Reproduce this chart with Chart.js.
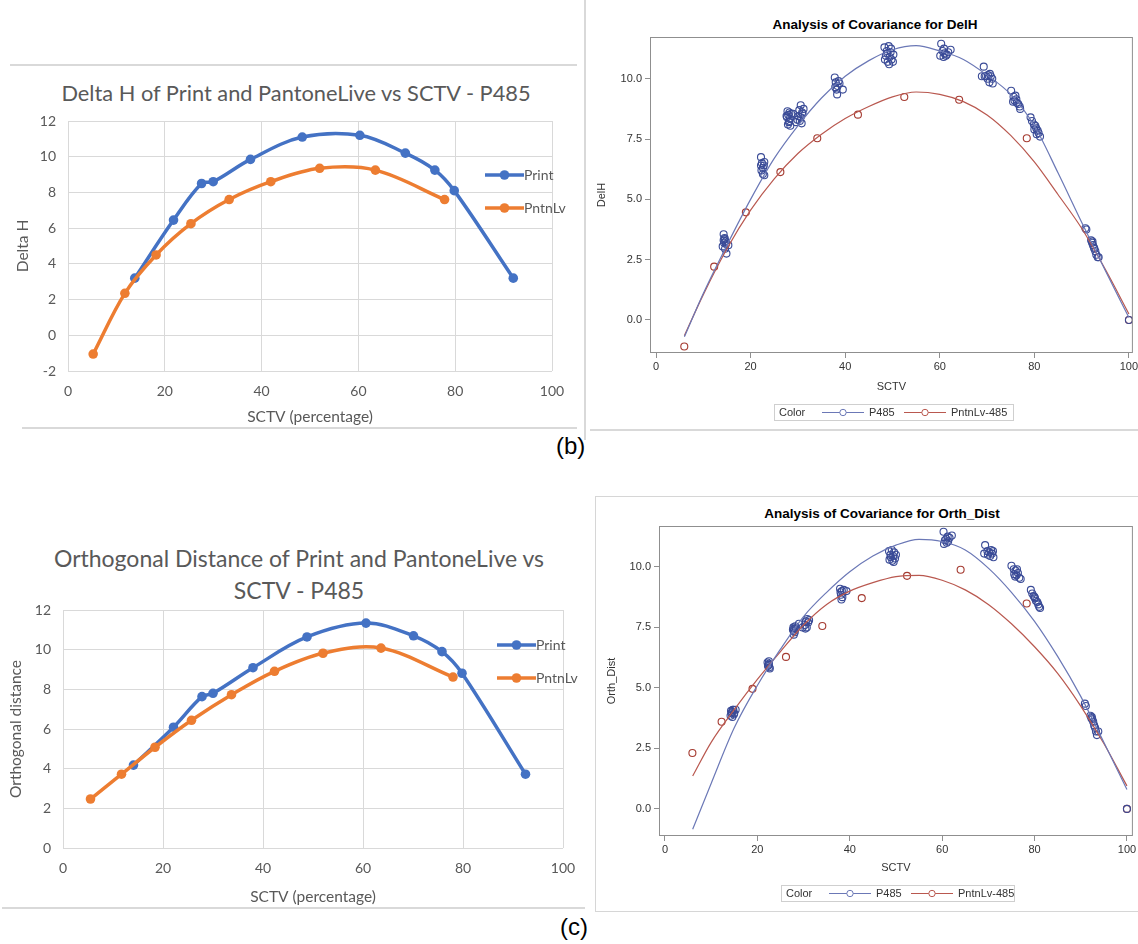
<!DOCTYPE html>
<html>
<head>
<meta charset="utf-8">
<script src="https://cdn.jsdelivr.net/npm/chart.js@4.4.0/dist/chart.umd.min.js"></script>
<style>
body { margin: 0; background: #fff; width: 1138px; height: 944px; position: relative; overflow: hidden; font-family: "Liberation Sans", Arial, sans-serif; }
canvas { position: absolute; }
.rule { position: absolute; background: #d9d9d9; }
.xl-title { position: absolute; font-family: Lato, sans-serif; font-size: 21.8px; color: #595959; white-space: nowrap; transform: translate(-50%, -50%); }
.xl-leg { position: absolute; font-family: Lato, sans-serif; font-size: 14px; color: #595959; }
.xl-leg div { position: absolute; left: 0; display: flex; align-items: center; white-space: nowrap; }
.sas-title { position: absolute; font-size: 13.5px; font-weight: bold; color: #000; white-space: nowrap; transform: translate(-50%, -50%); }
.sas-leg { position: absolute; height: 15px; border: 1px solid #cfcfcf; font-size: 11px; color: #333; }
.sas-leg > * { position: absolute; top: 0; line-height: 15px; white-space: nowrap; }
.panel-tag { position: absolute; font-size: 24px; color: #000; }
.frame { position: absolute; border: 1px solid #d6d6d6; }
</style>
</head>
<body>

<div class="rule" style="left:10px;top:64px;width:567px;height:2px"></div>
<div class="rule" style="left:22px;top:427px;width:555px;height:2px"></div>
<div class="rule" style="left:584px;top:0px;width:2px;height:440px"></div>
<div class="rule" style="left:590px;top:429px;width:548px;height:2px"></div>
<div class="rule" style="left:2px;top:907px;width:583px;height:2px"></div>
<div class="frame" style="left:595px;top:496px;width:545px;height:414px"></div>

<div class="xl-title" style="left:296px;top:92px">Delta H of Print and PantoneLive vs SCTV - P485</div>
<div class="xl-title" style="left:299px;top:558px;font-size:23px">Orthogonal Distance of Print and PantoneLive vs</div>
<div class="xl-title" style="left:299px;top:590px;font-size:23px">SCTV - P485</div>
<div class="sas-title" style="left:875px;top:24px">Analysis of Covariance for DelH</div>
<div class="sas-title" style="left:882px;top:513px">Analysis of Covariance for Orth_Dist</div>

<div class="panel-tag" style="left:556px;top:432px">(b)</div>
<div class="panel-tag" style="left:560px;top:913px">(c)</div>

<canvas id="dhExcel" width="575" height="366" style="left:10px;top:66px"></canvas>
<canvas id="odExcel" width="585" height="382" style="left:0px;top:530px"></canvas>
<canvas id="dhSas" width="548" height="440" style="left:590px;top:0px"></canvas>
<canvas id="odSas" width="543" height="415" style="left:595px;top:496px"></canvas>

<div class="xl-leg" id="legA" style="left:485px;top:174px"></div>
<div class="xl-leg" id="legC" style="left:497px;top:644px"></div>
<div class="sas-leg" id="legB" style="left:774px;top:404px;width:238px"></div>
<div class="sas-leg" id="legD" style="left:781px;top:885px;width:232px"></div>

<script>
// ---- Excel chart: Delta H ----
const dhPrintX = [13.8, 21.8, 27.6, 30.0, 37.7, 48.4, 60.3, 69.7, 75.8, 79.8, 92.0];
const dhPrintY = [3.2, 6.45, 8.5, 8.6, 9.85, 11.1, 11.2, 10.2, 9.25, 8.1, 3.2];
const dhLiveX = [5.2, 11.75, 18.2, 25.4, 33.3, 41.9, 52.0, 63.5, 77.8];
const dhLiveY = [-1.05, 2.35, 4.5, 6.25, 7.6, 8.6, 9.35, 9.25, 7.6];

// ---- Excel chart: Orthogonal distance ----
const odPrintX = [14.1, 22.1, 27.8, 30.0, 38.0, 48.8, 60.6, 70.1, 75.8, 79.8, 92.5];
const odPrintY = [4.18, 6.09, 7.63, 7.8, 9.09, 10.64, 11.34, 10.7, 9.9, 8.81, 3.72];
const odLiveX = [5.5, 11.7, 18.4, 25.7, 33.7, 42.3, 52.0, 63.6, 78.0];
const odLiveY = [2.47, 3.72, 5.08, 6.44, 7.73, 8.91, 9.82, 10.08, 8.62];

const xlXTicks = [0, 20, 40, 60, 80, 100];
const dhYTicks = [-2, 0, 2, 4, 6, 8, 10, 12];
const odYTicks = [0, 2, 4, 6, 8, 10, 12];

// ---- SAS ANCOVA: DelH ----
const delhP485 = [
  [14.3,3.55],[14.5,3.4],[14.3,3.3],[14.7,3.25],[14.1,3.05],[14.8,3.15],[15.3,3.1],[14.6,2.95],[14.9,2.75],[14.5,3.35],[14.4,3.2],
  [22.2,6.75],[22.4,6.5],[22.8,6.4],[22.3,6.2],[22.6,6.05],[22.9,6.0],[22.6,6.3],[22.2,6.4],[22.9,6.55],
  [27.8,8.65],[28.0,8.5],[27.7,8.4],[28.3,8.35],[28.1,8.2],[27.9,8.1],[28.4,8.05],[28.6,8.55],[27.6,8.45],[28.2,8.6],[29.0,8.55],[28.2,8.25],
  [30.6,8.9],[30.3,8.7],[30.9,8.6],[30.1,8.45],[30.6,8.4],[31.0,8.55],[29.9,8.3],[30.8,8.15],[30.4,8.25],[31.2,8.75],[29.6,8.2],
  [37.8,10.05],[38.0,9.85],[38.4,9.7],[38.2,9.55],[38.8,9.8],[38.3,9.35],[39.5,9.55],[37.9,9.65],[38.6,9.9],
  [48.3,11.3],[49.2,11.35],[48.8,11.15],[49.6,11.1],[48.6,10.95],[49.4,10.9],[50.2,11.0],[48.4,10.8],[49.0,10.7],[49.8,10.8],[49.3,10.6],[50.1,10.7],[48.9,11.05],[49.7,11.25],
  [60.3,11.45],[60.6,11.15],[61.0,11.05],[60.1,10.95],[61.3,10.95],[60.8,10.9],[61.8,11.1],[62.3,11.2],[61.5,11.0],[60.9,11.25],
  [69.3,10.5],[68.9,10.1],[69.5,10.1],[70.2,10.15],[70.6,10.2],[70.1,10.0],[70.5,9.85],[71.1,10.0],[71.2,9.8],[69.8,10.1],[70.8,10.1],
  [75.1,9.5],[75.6,9.25],[76.0,9.3],[75.8,9.1],[76.3,9.0],[76.6,8.95],[76.9,8.85],[77.0,8.75],[76.2,9.15],[75.5,9.05],
  [79.2,8.4],[79.5,8.25],[79.9,8.1],[80.2,8.05],[80.4,7.95],[80.7,7.85],[80.9,7.75],[81.2,7.6],[80.0,7.9],[80.5,7.7],
  [90.8,3.8],[91.0,3.75],[92.0,3.3],[92.2,3.2],[92.4,3.1],[92.6,3.0],[92.9,2.85],[93.1,2.7],[93.4,2.6],[93.6,2.6],[92.3,3.25],[92.7,2.95],
  [100,0]
];
const delhLive = [[5.98,-1.1],[12.3,2.21],[19.0,4.46],[26.3,6.13],[34.1,7.53],[42.7,8.51],[52.5,9.24],[64.1,9.13],[78.4,7.53],[100,0]];

// ---- SAS ANCOVA: Orth_Dist ----
const orthP485 = [
  [14.2,3.85],[14.5,4.0],[14.8,4.1],[14.4,3.95],[14.9,3.9],[14.6,3.8],[15.3,4.1],[14.3,4.05],[14.7,4.1],[15.0,3.95],
  [22.2,6.05],[22.4,5.95],[22.6,5.85],[22.5,6.0],[22.3,5.9],[22.7,5.8],[22.5,6.1],
  [27.8,7.5],[28.0,7.45],[27.9,7.35],[28.1,7.3],[27.7,7.4],[28.2,7.55],[27.9,7.2],[28.3,7.45],
  [29.0,7.65],[29.8,7.5],[30.3,7.6],[30.5,7.75],[30.8,7.85],[31.0,7.7],[30.7,7.5],[31.2,7.8],[30.4,7.45],
  [37.9,9.1],[38.3,9.0],[38.1,8.85],[38.4,8.75],[38.2,8.65],[38.7,9.05],[39.3,9.0],[38.0,8.95],
  [48.5,10.65],[49.1,10.7],[49.6,10.6],[48.8,10.5],[49.4,10.45],[50.0,10.5],[48.6,10.3],[49.2,10.25],[49.8,10.35],[48.9,10.4],[49.5,10.2],
  [60.3,11.45],[61.6,11.2],[62.1,11.3],[60.6,11.1],[61.0,11.0],[60.9,11.15],[61.3,11.05],[60.4,10.95],[61.2,11.25],
  [69.3,10.9],[69.1,10.55],[69.8,10.65],[70.2,10.6],[70.6,10.7],[70.4,10.45],[71.1,10.4],[69.9,10.5],[70.8,10.55],[71.0,10.65],
  [75.0,10.05],[75.5,9.9],[75.9,9.85],[75.6,9.7],[76.1,9.65],[76.4,9.75],[76.7,9.55],[77.0,9.5],[76.2,9.9],[75.8,9.6],
  [79.2,9.05],[79.5,8.9],[79.8,8.8],[80.1,8.7],[80.3,8.6],[80.6,8.55],[80.8,8.45],[81.0,8.35],[81.2,8.3],[80.0,8.75],
  [90.9,4.35],[91.1,4.25],[92.1,3.85],[92.3,3.75],[92.5,3.7],[92.7,3.6],[92.9,3.45],[93.1,3.35],[93.3,3.2],[93.5,3.05],[93.8,3.2],[92.4,3.8],
  [100,0]
];
const orthLive = [[5.94,2.31],[12.26,3.6],[18.95,4.96],[26.2,6.28],[34.06,7.56],[42.6,8.71],[52.4,9.63],[64.0,9.88],[78.3,8.49],[100,0]];

// fitted curves
const fitX = [6, 10, 15, 20, 25, 30, 35, 40, 45, 50, 55, 60, 65, 70, 75, 80, 85, 90, 95, 100];
const delhFitP485 = [-0.7, 1.1, 3.1, 5.0, 6.7, 8.05, 9.2, 10.1, 10.75, 11.2, 11.37, 11.15, 10.8, 10.15, 9.35, 8.05, 6.1, 4.05, 2.05, 0.1];
const delhFitLive = [-0.65, 1.05, 2.95, 4.55, 5.85, 6.9, 7.7, 8.35, 8.85, 9.25, 9.45, 9.35, 9.05, 8.5, 7.65, 6.55, 5.2, 3.8, 2.1, 0.25];
const orthFitP485 = [-0.84, 1.05, 3.35, 5.1, 6.6, 7.95, 8.95, 9.8, 10.45, 10.9, 11.14, 11.05, 10.7, 9.95, 8.95, 7.75, 6.3, 4.65, 2.75, 0.8];
const orthFitLive = [1.36, 2.75, 4.1, 5.35, 6.5, 7.6, 8.45, 9.0, 9.35, 9.6, 9.65, 9.45, 9.05, 8.45, 7.65, 6.7, 5.6, 4.25, 2.7, 0.95];

const sasXTicks = [0, 20, 40, 60, 80, 100];
const sasYTicks = [0, 2.5, 5, 7.5, 10];

const XL_BLUE = '#4472C4', XL_ORANGE = '#ED7D31';
const SAS_BLUE = '#3a4b97', SAS_RED = '#a53b31', SAS_BLUE_LINE = '#6b78b6', SAS_RED_LINE = '#b9584f';

function zip(xs, ys) { return xs.map(function (x, i) { return { x: x, y: ys[i] }; }); }
function pairs(a) { return a.map(function (p) { return { x: p[0], y: p[1] }; }); }
function fixTicks(list) { return function (s) { s.ticks = list.map(function (v) { return { value: v }; }); }; }

// box around the plot area (SAS style)
const framePlugin = {
    id: 'frame',
    afterDraw: function (chart, args, o) {
        const a = chart.chartArea, c = chart.ctx;
        c.save();
        c.strokeStyle = o.color || '#8c8c8c';
        c.lineWidth = 1;
        c.strokeRect(a.left + 0.5, a.top + 0.5, a.right - a.left - 1, a.bottom - a.top - 1);
        c.restore();
    }
};

function excelChart(id, printPts, livePts, yTicks, yTitle, lay) {
    const tickFont = { family: 'Lato', size: 14 };
    return new Chart(document.getElementById(id), {
        type: 'scatter',
        data: {
            datasets: [{
                label: 'Print', data: printPts, showLine: true, order: 1,
                borderColor: XL_BLUE, backgroundColor: XL_BLUE, borderWidth: 3.5, tension: 0.35,
                pointRadius: 4.8, pointBorderWidth: 0, pointBackgroundColor: XL_BLUE
            }, {
                label: 'PntnLv', data: livePts, showLine: true, order: 0,
                borderColor: XL_ORANGE, backgroundColor: XL_ORANGE, borderWidth: 3.5, tension: 0.35,
                pointRadius: 4.8, pointBorderWidth: 0, pointBackgroundColor: XL_ORANGE
            }]
        },
        options: {
            responsive: false, animation: false, devicePixelRatio: 1,
            layout: { padding: lay.pad },
            plugins: { legend: { display: false }, tooltip: { enabled: false } },
            scales: {
                x: {
                    type: 'linear', min: 0, max: 100,
                    afterBuildTicks: fixTicks(xlXTicks),
                    afterFit: function (s) { s.height = lay.xh; s.paddingLeft = 0; s.paddingRight = 0; },
                    grid: { color: '#d9d9d9', drawTicks: false },
                    border: { display: false },
                    ticks: { padding: 12, color: '#595959', font: tickFont },
                    title: { display: true, text: 'SCTV (percentage)', color: '#595959', font: { family: 'Lato', size: 15.5 } }
                },
                y: {
                    type: 'linear', min: yTicks[0], max: yTicks[yTicks.length - 1],
                    afterBuildTicks: fixTicks(yTicks),
                    afterFit: function (s) { s.width = lay.yw; s.paddingTop = 0; s.paddingBottom = 0; },
                    grid: { color: '#d9d9d9', drawTicks: false },
                    border: { display: false },
                    ticks: { padding: 12, color: '#595959', font: tickFont },
                    title: { display: true, text: yTitle, color: '#595959', font: { family: 'Lato', size: 15.5 } }
                }
            }
        }
    });
}

function sasChart(id, bluePts, redPts, blueFit, redFit, yTitle, lay) {
    const f = { family: 'Liberation Sans', size: 11 };
    return new Chart(document.getElementById(id), {
        type: 'scatter',
        data: {
            datasets: [{
                label: 'P485 fit', data: zip(fitX, blueFit), showLine: true, borderColor: SAS_BLUE_LINE,
                borderWidth: 1.2, pointRadius: 0, cubicInterpolationMode: 'monotone'
            }, {
                label: 'PntnLv-485 fit', data: zip(fitX, redFit), showLine: true, borderColor: SAS_RED_LINE,
                borderWidth: 1.2, pointRadius: 0, cubicInterpolationMode: 'monotone'
            }, {
                label: 'P485', data: pairs(bluePts), pointStyle: 'circle', pointRadius: 3.5,
                pointBorderWidth: 1.1, pointBorderColor: SAS_BLUE, pointBackgroundColor: 'rgba(0,0,0,0)'
            }, {
                label: 'PntnLv-485', data: pairs(redPts), pointStyle: 'circle', pointRadius: 3.5,
                pointBorderWidth: 1.1, pointBorderColor: SAS_RED, pointBackgroundColor: 'rgba(0,0,0,0)'
            }]
        },
        plugins: [framePlugin],
        options: {
            responsive: false, animation: false, devicePixelRatio: 1,
            layout: { padding: lay.pad },
            plugins: { legend: { display: false }, tooltip: { enabled: false }, frame: { color: '#8f8f8f' } },
            scales: {
                x: {
                    type: 'linear', min: lay.x[0], max: lay.x[1],
                    afterBuildTicks: fixTicks(sasXTicks),
                    afterFit: function (s) { s.height = lay.xh; s.paddingLeft = 0; s.paddingRight = 0; },
                    grid: { display: true, drawOnChartArea: false, drawTicks: true, tickLength: 5, color: '#8f8f8f' },
                    border: { display: false },
                    ticks: { padding: 2, color: '#333', font: f },
                    title: { display: true, text: 'SCTV', color: '#333', font: f }
                },
                y: {
                    type: 'linear', min: lay.y[0], max: lay.y[1],
                    afterBuildTicks: fixTicks(sasYTicks),
                    afterFit: function (s) { s.width = lay.yw; s.paddingTop = 0; s.paddingBottom = 0; },
                    grid: { display: true, drawOnChartArea: false, drawTicks: true, tickLength: 5, color: '#8f8f8f' },
                    border: { display: false },
                    ticks: { padding: 3, color: '#333', font: f, callback: function (v) { return v.toFixed(1); } },
                    title: { display: true, text: yTitle, color: '#333', font: f }
                }
            }
        }
    });
}

excelChart('dhExcel', zip(dhPrintX, dhPrintY), zip(dhLiveX, dhLiveY), dhYTicks, 'Delta H',
    { pad: { left: 0, top: 55, right: 33, bottom: 2 }, yw: 58, xh: 59 });
excelChart('odExcel', zip(odPrintX, odPrintY), zip(odLiveX, odLiveY), odYTicks, 'Orthogonal distance',
    { pad: { left: 3, top: 80, right: 22, bottom: 2 }, yw: 60, xh: 62 });
sasChart('dhSas', delhP485, delhLive, delhFitP485, delhFitLive, 'DelH',
    { pad: { left: 1, top: 37, right: 4, bottom: 42 }, yw: 59, xh: 45, x: [-1.27, 100.84], y: [-1.37, 11.73] });
sasChart('odSas', orthP485, orthLive, orthFitP485, orthFitLive, 'Orth_Dist',
    { pad: { left: 6, top: 30, right: 2, bottom: 32 }, yw: 58, xh: 43, x: [-1.29, 101.29], y: [-1.12, 11.69] });

// legends
function xlLegend(id) {
    const items = [['Print', XL_BLUE, 0], ['PntnLv', XL_ORANGE, 33]];
    document.getElementById(id).innerHTML = items.map(function (it) {
        return '<div style="top:' + (it[2] - 8) + 'px"><svg width="39" height="16"><line x1="0" y1="8" x2="39" y2="8" stroke="' + it[1] +
            '" stroke-width="3.5"/><circle cx="19.5" cy="8" r="4.8" fill="' + it[1] + '"/></svg><span>' + it[0] + '</span></div>';
    }).join('');
}
function sasSym(color) {
    return '<svg width="42" height="15"><line x1="0" y1="7.5" x2="42" y2="7.5" stroke="' + color +
        '" stroke-width="1.2"/><circle cx="21" cy="7.5" r="3.2" fill="#fff" stroke="' + color + '" stroke-width="1"/></svg>';
}
function sasLegend(id) {
    document.getElementById(id).innerHTML =
        '<span style="left:4px">Color</span>' +
        '<span style="left:47px">' + sasSym(SAS_BLUE_LINE) + '</span>' +
        '<span style="left:94px">P485</span>' +
        '<span style="left:129px">' + sasSym(SAS_RED_LINE) + '</span>' +
        '<span style="left:176px">PntnLv-485</span>';
}
xlLegend('legA');
xlLegend('legC');
sasLegend('legB');
sasLegend('legD');
</script>
</body>
</html>
